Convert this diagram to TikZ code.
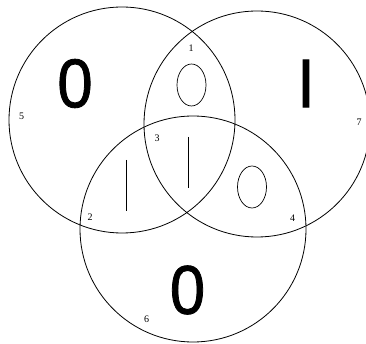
\documentclass[tikz,border=0pt]{standalone}
\usepackage{fontspec}
\setmainfont{Liberation Serif}
\newfontfamily\glyphfont[FakeBold=1.2]{Liberation Sans}
\usepackage{tikz}
\usetikzlibrary{shapes.geometric, positioning}
\tikzstyle{setcircle} = [circle, draw=black, line width=0.8pt, minimum size=226pt, inner sep=0pt]
\tikzstyle{oval} = [ellipse, draw=black, line width=0.7pt, minimum width=29pt, minimum height=42pt, inner sep=0pt]
\tikzstyle{glyph} = [inner sep=0pt, xscale=0.92, font=\glyphfont\fontsize{69}{69}\selectfont]
\tikzstyle{region} = [inner sep=0pt, font=\fontsize{10}{10}\selectfont]
\tikzstyle{bar} = [line width=0.7pt]

\begin{document}
\begin{tikzpicture}[x=1pt, y=-1pt]
    \useasboundingbox (0,0) rectangle (366,344);
    \clip (0,0) rectangle (366,344);

    % the three sets
    \node (setL) [setcircle] at (122,120) {};
    \node (setR) [setcircle] at (257,124) {};
    \node (setB) [setcircle] at (193,229) {};

    % symbols in the regions
    \node (zeroL) [glyph] at (75,83.5) {0};
    \node (oneR) [glyph] at (306,83.5) {I};
    \node (zeroB) [glyph] at (187.5,290) {0};
    \node (ovalT) [oval] at (191.5,85) {};
    \node (ovalR) [oval] at (252,187) {};
    \coordinate (barCtop) at (188.3,137);
    \coordinate (barCbot) at (188.3,188);
    \coordinate (barLtop) at (126,160);
    \coordinate (barLbot) at (126,211);
    \draw [bar] (barCtop) -- (barCbot);
    \draw [bar] (barLtop) -- (barLbot);

    % region numbers
    \node (r1) [region] at (191,48) {1};
    \node (r2) [region] at (90,217) {2};
    \node (r3) [region] at (157,138) {3};
    \node (r4) [region] at (292.5,218) {4};
    \node (r5) [region] at (21.5,116) {5};
    \node (r6) [region] at (146.5,319) {6};
    \node (r7) [region] at (359,122) {7};
\end{tikzpicture}
\end{document}
